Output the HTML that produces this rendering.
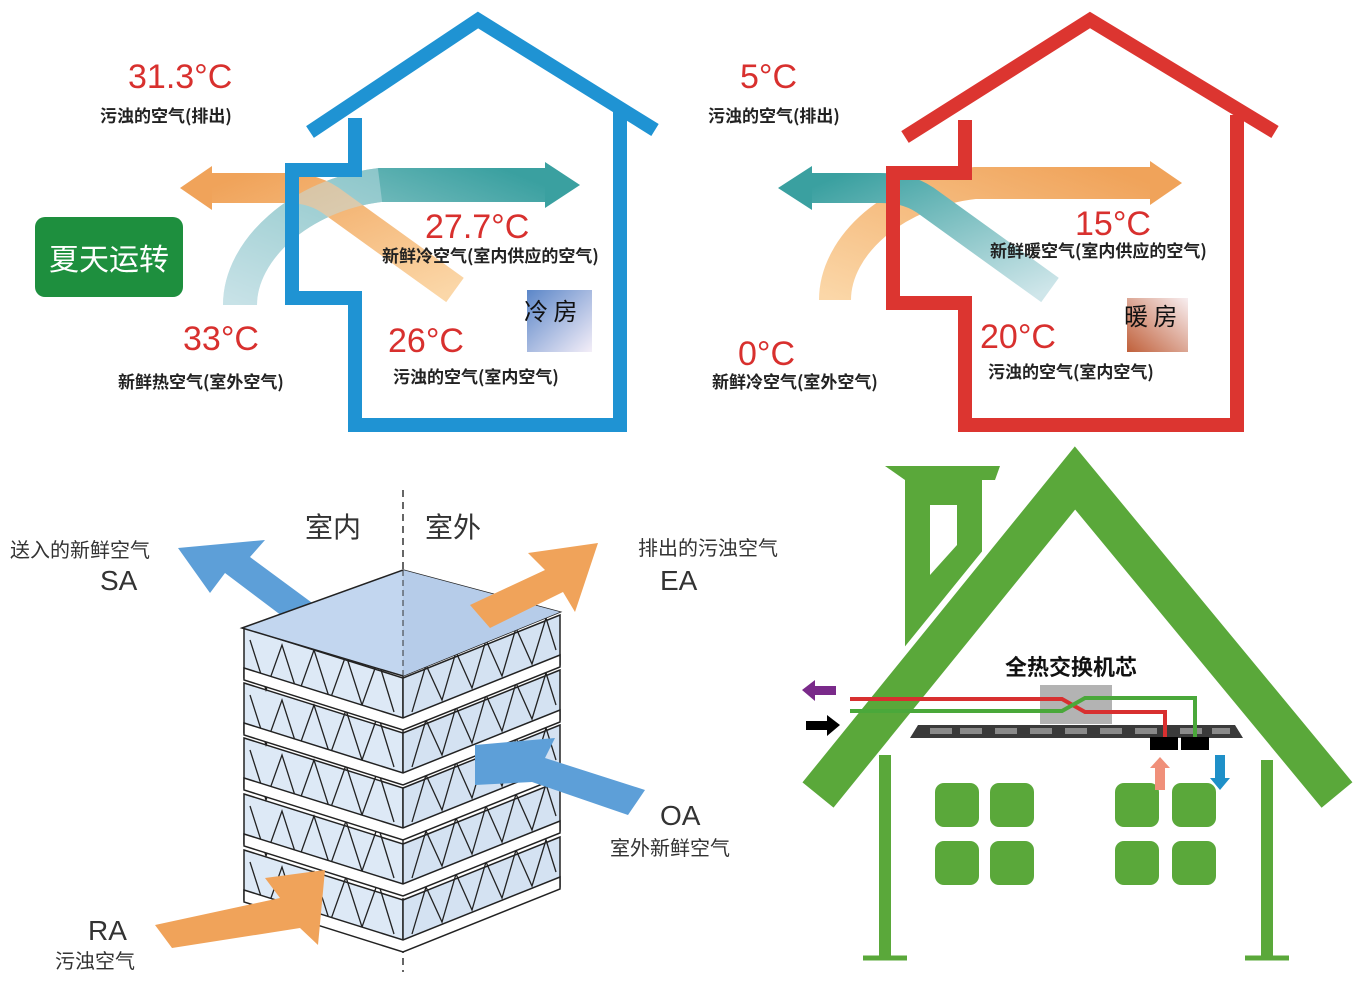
<!DOCTYPE html>
<html><head><meta charset="utf-8"><style>
html,body{margin:0;padding:0;background:#fff;}
svg{display:block;font-family:"Liberation Sans","Noto Sans CJK SC",sans-serif;}
.t{font-family:"Liberation Sans",sans-serif;fill:#d8302e;font-size:34px;}
.c{font-family:"Noto Sans CJK SC",sans-serif;font-size:17px;font-weight:bold;fill:#222;}
.g{font-family:"Noto Sans CJK SC",sans-serif;font-size:20px;fill:#333;}
.e{font-family:"Liberation Sans",sans-serif;font-size:28px;fill:#333;}
</style></head><body>
<svg width="1362" height="987" viewBox="0 0 1362 987" xmlns="http://www.w3.org/2000/svg">
<defs>
<linearGradient id="tealR" x1="0" y1="1" x2="1" y2="0"><stop offset="0" stop-color="#cfe6ea"/><stop offset="1" stop-color="#3aa0a0"/></linearGradient>
<linearGradient id="tealL" x1="1" y1="1" x2="0" y2="0"><stop offset="0" stop-color="#cfe6ea"/><stop offset="1" stop-color="#3aa0a0"/></linearGradient>
<linearGradient id="orL" x1="1" y1="1" x2="0" y2="0"><stop offset="0" stop-color="#fbd7a8"/><stop offset="1" stop-color="#f0a35a"/></linearGradient>
<linearGradient id="orR" x1="0" y1="1" x2="1" y2="0"><stop offset="0" stop-color="#fbd7a8"/><stop offset="1" stop-color="#f0a35a"/></linearGradient>
<linearGradient id="cold" x1="0" y1="0" x2="1" y2="1"><stop offset="0" stop-color="#5b86c8"/><stop offset="1" stop-color="#f4eef8"/></linearGradient>
<linearGradient id="warm" x1="0" y1="1" x2="1" y2="0"><stop offset="0" stop-color="#c0603a"/><stop offset="1" stop-color="#f8eef0"/></linearGradient>
<g id="band">
<polygon points="244,628 403,678 403,728 244,678" fill="#dde9f6" stroke="#222" stroke-width="1.5"/>
<polygon points="403,678 560,615 560,665 403,728" fill="#d4e2f2" stroke="#222" stroke-width="1.5"/>
<polyline points="250,640 266,690 282,645 298,695 314,650 330,700 346,655 362,705 378,660 394,712" fill="none" stroke="#222" stroke-width="1.3"/>
<polyline points="412,712 426,665 442,700 456,652 472,688 486,640 502,676 516,628 532,664 546,618 556,650" fill="none" stroke="#222" stroke-width="1.3"/>
<polygon points="244,668 403,718 560,655 560,667 403,730 244,680" fill="#fff" stroke="#222" stroke-width="1.5"/>
</g>
</defs>

<!-- ===== BLUE HOUSE ===== -->
<path d="M240,305 C240,250 300,195 380,185 L545,185" stroke="url(#tealR)" stroke-width="34" fill="none"/>
<polygon points="545,162 580,185 545,208" fill="#3aa0a0"/>
<path d="M455,290 L330,200 C315,190 300,188 285,188 L210,188" stroke="url(#orL)" stroke-width="30" fill="none"/>
<polygon points="212,166 180,188 212,210" fill="#f0a35a"/>
<path d="M240,305 C240,250 300,195 380,185" stroke="#bfdde3" stroke-width="34" fill="none" opacity="0.5"/>
<g fill="none" stroke="#1f93d3" stroke-width="14" stroke-linejoin="miter">
<polyline points="310,132 478,20 655,130"/>
<polyline points="355,118 355,170 292,170 292,298 355,298 355,425 620,425 620,112"/>
</g>
<rect x="35" y="217" width="148" height="80" rx="10" fill="#1e8f3e"/>
<text x="109" y="270" text-anchor="middle" font-family="Noto Sans CJK SC" font-size="30" fill="#fff">夏天运转</text>
<text class="t" x="128" y="88">31.3°C</text>
<text class="c" x="100" y="122">污浊的空气(排出)</text>
<text class="t" x="425" y="238">27.7°C</text>
<text class="c" x="382" y="262" font-size="15">新鲜冷空气(室内供应的空气)</text>
<text class="t" x="183" y="350">33°C</text>
<text class="c" x="118" y="388">新鲜热空气(室外空气)</text>
<text class="t" x="388" y="352">26°C</text>
<text class="c" x="393" y="383" font-size="15">污浊的空气(室内空气)</text>
<rect x="527" y="290" width="65" height="62" fill="url(#cold)"/>
<text x="524" y="320" font-family="Noto Sans CJK SC" font-size="24" fill="#111">冷 房</text>

<!-- ===== RED HOUSE ===== -->
<path d="M835,300 C835,245 895,192 975,183 L1150,183" stroke="url(#orR)" stroke-width="32" fill="none"/>
<polygon points="1150,161 1182,183 1150,205" fill="#f0a35a"/>
<path d="M1050,290 L925,200 C910,190 895,188 880,188 L810,188" stroke="url(#tealL)" stroke-width="30" fill="none"/>
<polygon points="812,166 778,188 812,210" fill="#3aa0a0"/>
<g fill="none" stroke="#dc3530" stroke-width="14" stroke-linejoin="miter">
<polyline points="905,137 1090,20 1275,132"/>
<polyline points="965,120 965,173 893,173 893,303 965,303 965,425 1237,425 1237,115"/>
</g>
<text class="t" x="740" y="88">5°C</text>
<text class="c" x="708" y="122">污浊的空气(排出)</text>
<text class="t" x="1075" y="235">15°C</text>
<text class="c" x="990" y="257" font-size="15">新鲜暖空气(室内供应的空气)</text>
<text class="t" x="738" y="365">0°C</text>
<text class="c" x="712" y="388">新鲜冷空气(室外空气)</text>
<text class="t" x="980" y="348">20°C</text>
<text class="c" x="988" y="378" font-size="15">污浊的空气(室内空气)</text>
<rect x="1127" y="298" width="61" height="54" fill="url(#warm)"/>
<text x="1124" y="325" font-family="Noto Sans CJK SC" font-size="24" fill="#111">暖 房</text>

<!-- ===== HEAT EXCHANGER ===== -->
<line x1="403" y1="490" x2="403" y2="972" stroke="#333" stroke-width="1.5" stroke-dasharray="7,5"/>
<use href="#band" transform="translate(0,222)"/>
<use href="#band" transform="translate(0,166)"/>
<use href="#band" transform="translate(0,110)"/>
<use href="#band" transform="translate(0,55)"/>
<use href="#band"/>
<!-- SA arrow -->
<polygon points="178,548 265,540 250,557 315,605 290,622 225,573 210,593" fill="#5d9fd8"/>
<polygon points="242,628 403,570 560,612 403,676" fill="#c2d6ef" stroke="#222" stroke-width="1.5"/>
<polygon points="403,570 560,612 403,676" fill="#b6cce9"/>
<line x1="403" y1="570" x2="403" y2="676" stroke="#333" stroke-dasharray="6,4"/>
<!-- EA arrow -->
<polygon points="598,543 575,612 563,592 490,628 470,605 545,570 528,553" fill="#f0a35a"/>
<!-- OA arrow -->
<polygon points="475,745 555,738 545,758 645,790 628,815 532,782 475,785" fill="#5d9fd8"/>
<!-- RA arrow -->
<polygon points="325,870 318,945 300,928 172,948 155,925 280,898 265,878" fill="#f0a35a"/>
<text x="305" y="537" font-family="Noto Sans CJK SC" font-size="28" fill="#333">室内</text>
<text x="425" y="537" font-family="Noto Sans CJK SC" font-size="28" fill="#333">室外</text>
<text class="g" x="10" y="557">送入的新鲜空气</text>
<text class="e" x="100" y="590">SA</text>
<text class="g" x="638" y="555">排出的污浊空气</text>
<text class="e" x="660" y="590">EA</text>
<text class="e" x="660" y="825">OA</text>
<text class="g" x="610" y="855">室外新鲜空气</text>
<text class="e" x="88" y="940">RA</text>
<text class="g" x="55" y="968">污浊空气</text>

<!-- ===== GREEN HOUSE ===== -->
<polygon points="885,466 1000,466 995,480 905,480" fill="#5aa83a"/>
<polygon points="905,480 982,480 982,560 905,660" fill="#5aa83a"/>
<polygon points="930,505 957,505 957,545 930,575" fill="#fff"/>
<polyline points="818,795 1075,478 1337,795" fill="none" stroke="#fff" stroke-width="52" stroke-linejoin="miter"/>
<polyline points="818,795 1075,478 1337,795" fill="none" stroke="#5aa83a" stroke-width="40" stroke-linejoin="miter"/>
<line x1="885" y1="755" x2="885" y2="958" stroke="#5aa83a" stroke-width="12"/>
<line x1="863" y1="958" x2="907" y2="958" stroke="#5aa83a" stroke-width="5"/>
<line x1="1267" y1="760" x2="1267" y2="958" stroke="#5aa83a" stroke-width="12"/>
<line x1="1245" y1="958" x2="1289" y2="958" stroke="#5aa83a" stroke-width="5"/>
<g fill="#5aa83a">
<rect x="935" y="783" width="44" height="44" rx="9"/><rect x="990" y="783" width="44" height="44" rx="9"/>
<rect x="935" y="841" width="44" height="44" rx="9"/><rect x="990" y="841" width="44" height="44" rx="9"/>
<rect x="1115" y="783" width="44" height="44" rx="9"/><rect x="1172" y="783" width="44" height="44" rx="9"/>
<rect x="1115" y="841" width="44" height="44" rx="9"/><rect x="1172" y="841" width="44" height="44" rx="9"/>
</g>
<polygon points="918,725 1235,725 1243,738 910,738" fill="#3a3a3a"/>
<g fill="#8a8a8a">
<rect x="930" y="728" width="22" height="6"/><rect x="960" y="728" width="22" height="6"/><rect x="995" y="728" width="22" height="6"/>
<rect x="1030" y="728" width="22" height="6"/><rect x="1065" y="728" width="22" height="6"/><rect x="1100" y="728" width="22" height="6"/>
<rect x="1135" y="728" width="22" height="6"/><rect x="1180" y="728" width="22" height="6"/><rect x="1212" y="728" width="18" height="6"/>
</g>
<rect x="1040" y="685" width="72" height="39" fill="#b3b3b3"/>
<polyline points="850,699 1062,699 1085,712 1165,712 1165,738" fill="none" stroke="#d83030" stroke-width="4"/>
<polyline points="850,711 1062,711 1085,698 1195,698 1195,738" fill="none" stroke="#4aa83a" stroke-width="4"/>
<rect x="1150" y="737" width="28" height="13" fill="#000"/><rect x="1181" y="737" width="28" height="13" fill="#000"/>
<text x="1005" y="675" font-family="Noto Sans CJK SC" font-size="22" font-weight="bold" fill="#111">全热交换机芯</text>
<polygon points="802,690 815,680 815,686 836,686 836,695 815,695 815,701" fill="#7a2a8a"/>
<polygon points="840,725 827,715 827,721 806,721 806,730 827,730 827,736" fill="#000"/>
<polygon points="1160,757 1170,768 1165,768 1165,790 1155,790 1155,768 1150,768" fill="#f0907a"/>
<polygon points="1220,790 1230,778 1225,778 1225,755 1215,755 1215,778 1210,778" fill="#1f90c8"/>
</svg>
</body></html>
